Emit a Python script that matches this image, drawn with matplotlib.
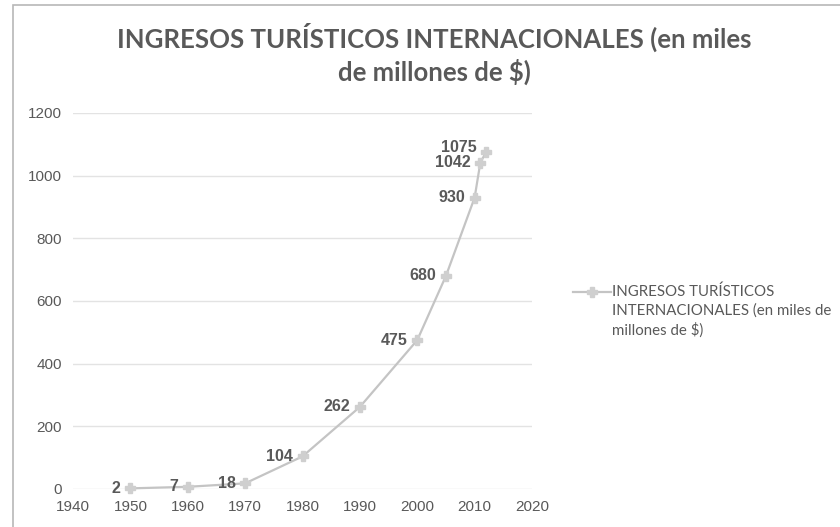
import matplotlib.pyplot as plt
from matplotlib.patches import Rectangle
from matplotlib.lines import Line2D

years = [1950, 1960, 1970, 1980, 1990, 2000, 2005, 2010, 2011, 2012]
ingresos = [2, 7, 18, 104, 262, 475, 680, 930, 1042, 1075]
x_ticks = [1940, 1950, 1960, 1970, 1980, 1990, 2000, 2010, 2020]
y_ticks = [0, 200, 400, 600, 800, 1000, 1200]
serie = "INGRESOS TURÍSTICOS\nINTERNACIONALES (en miles de\nmillones de $)"
titulo = "INGRESOS TURÍSTICOS INTERNACIONALES (en miles\nde millones de $)"

gris = "#595959"
fig = plt.figure(figsize=(8.4, 5.27), dpi=100)
fig.patch.set_facecolor("white")

# marco del grafico (recortado a la derecha y abajo)
fig.add_artist(Rectangle((13 / 840, -0.05), 1.1, 1 - 5 / 527 + 0.05,
                         transform=fig.transFigure, fill=False,
                         edgecolor="#b8b8b8", linewidth=1.2))

ax = fig.add_axes([73 / 840, 1 - 489 / 527, (532 - 73) / 840, (489 - 113) / 527])
ax.set_xlim(1940, 2020)
ax.set_ylim(0, 1200)
ax.set_xticks(x_ticks)
ax.set_yticks(y_ticks)
ax.grid(axis="y", color="#e3e3e3", linewidth=1)
ax.set_axisbelow(True)
for s in ax.spines.values():
    s.set_visible(False)
ax.tick_params(length=0, labelsize=11, labelcolor=gris, pad=8)
for lab in ax.get_xticklabels() + ax.get_yticklabels():
    lab.set_family("Liberation Sans")

estilo = dict(color="#c4c4c4", linewidth=1.6, marker="P", markersize=7,
              markerfacecolor="#cfcfcf", markeredgecolor="#cfcfcf")
ax.plot(years, ingresos, clip_on=False, **estilo)

for x, y in zip(years, ingresos):
    dy = 3 if y == 1075 else 0
    ax.annotate(str(y), (x, y), xytext=(-7, dy), textcoords="offset points",
                ha="right", va="center", fontsize=11.5, fontweight="bold",
                color=gris, family="Liberation Sans")

fig.text(0.517, 1 - 54 / 527, titulo, ha="center", va="center", fontsize=18.5,
         fontweight="bold", color=gris, family="Lato", linespacing=1.3)

# leyenda: muestra alineada con la primera linea del texto
ly = 1 - 292 / 527
fig.add_artist(Line2D([573 / 840, 611 / 840], [ly, ly], transform=fig.transFigure,
                      markevery=[], **estilo))
fig.add_artist(Line2D([592 / 840], [ly], transform=fig.transFigure, **estilo))
fig.text(612 / 840, 1 - 284 / 527, serie, ha="left", va="top", fontsize=10.8,
         color=gris, family="Lato", linespacing=1.42)

fig.savefig("out.png", dpi=100)
